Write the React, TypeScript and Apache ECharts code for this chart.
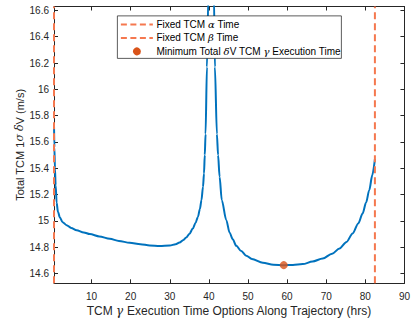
import React, { useEffect, useRef } from "react";
import * as echarts from "echarts";

const xTicks = [10, 20, 30, 40, 50, 60, 70, 80, 90];
const yTicks = [14.6, 14.8, 15, 15.2, 15.4, 15.6, 15.8, 16, 16.2, 16.4, 16.6];
const xRange = [0.4, 90];
const yRange = [14.525, 16.63];

const curveX = [
  0.4, 0.5, 0.64, 0.82, 1.07, 1.4, 1.91, 2.6, 3.62, 4.8, 6.18, 8.0, 9.57, 12.0, 14.67, 17.0,
  19.77, 22.5, 24.88, 27.43, 30.0, 31.5, 32.5, 33.5, 34.2, 35.0, 35.9, 36.6, 37.2, 37.7, 38.1,
  38.5, 38.75, 38.95, 39.15, 39.5, 39.86, 40.2, 40.6, 41.0, 41.3, 41.54, 42.05, 42.35, 42.74,
  43.3, 44.45, 45.3, 46.1, 47.0, 48.28, 49.55, 51.0, 53.8, 56.5, 59.15, 61.5, 64.0, 66.5, 69.1,
  71.5, 73.4, 75.2, 76.75, 78.2, 79.3, 80.2, 81.0, 81.8, 82.45,
];
const curveY = [
  15.74, 15.56, 15.4, 15.27, 15.14, 15.07, 15.025, 14.99, 14.967, 14.946, 14.929, 14.912, 14.899,
  14.881, 14.863, 14.847, 14.833, 14.822, 14.813, 14.808, 14.812, 14.822, 14.836, 14.855, 14.874,
  14.9, 14.942, 14.985, 15.03, 15.09, 15.157, 15.26, 15.36, 15.5, 15.66, 16.17, 16.7, 17.6, 18.5,
  17.6, 16.7, 16.17, 15.66, 15.5, 15.335, 15.157, 15.005, 14.91, 14.86, 14.81, 14.77, 14.735,
  14.71, 14.681, 14.667, 14.663, 14.665, 14.671, 14.69, 14.714, 14.75, 14.79, 14.84, 14.904,
  14.98, 15.056, 15.14, 15.233, 15.35, 15.47,
];

const alphaTime = 0.4;
const betaTime = 82.45;
const minTime = 59.15;
const minDeltaV = 14.663;

const FONT = "'Liberation Sans', Arial, Helvetica, sans-serif";
const GREEK = "'DejaVu Serif', 'Liberation Serif', serif";
const INK = "#262626";
const BLUE = "#0072BD";
const DASH = "#F5784F";
const DOT = "#D95319";

export default function App() {
  const ref = useRef<HTMLDivElement>(null);

  useEffect(() => {
    if (!ref.current) return;
    const chart = echarts.init(ref.current, undefined, { renderer: "svg" });
    const fmt = (v: number) => String(Number(v.toFixed(1)));
    const richFor = (size: number) => ({
      a: { fontFamily: FONT, fontSize: size, color: INK },
      g: { fontFamily: GREEK, fontStyle: "italic", fontSize: size, color: INK },
    });
    const legStyle = (text: string) => ({
      text,
      fontFamily: FONT,
      fontSize: 10,
      fill: "#000",
      verticalAlign: "middle",
      rich: {
        g: { fontFamily: GREEK, fontStyle: "italic", fontSize: 10, fill: "#000", color: "#000" },
      },
    });
    const baseX = {
      type: "value",
      min: xRange[0],
      max: xRange[1],
      splitLine: { show: false },
      axisLine: { show: true, onZero: false, lineStyle: { color: INK, width: 1 } },
      axisTick: { show: true, inside: true, length: 4, customValues: xTicks, lineStyle: { color: INK } },
    };
    const baseY = {
      type: "value",
      min: yRange[0],
      max: yRange[1],
      splitLine: { show: false },
      axisLine: { show: true, onZero: false, lineStyle: { color: INK, width: 1 } },
      axisTick: { show: true, inside: true, length: 4, customValues: yTicks, lineStyle: { color: INK } },
    };
    const curve = curveX.map((x, i) => [x, curveY[i]]);
    chart.setOption({
      animation: false,
      backgroundColor: "#fff",
      grid: { left: 54, right: 8, top: 6.5, bottom: 41.7, containLabel: false },
      xAxis: [
        {
          ...baseX,
          position: "bottom",
          axisLabel: {
            customValues: xTicks,
            fontFamily: FONT,
            fontSize: 10,
            color: INK,
            margin: 8,
          },
          name: "{a|TCM }{g|γ}{a| Execution Time Options Along Trajectory (hrs)}",
          nameLocation: "middle",
          nameGap: 22,
          nameMoveOverlap: false,
          nameTextStyle: { rich: richFor(12) },
        },
        { ...baseX, position: "top", axisLabel: { show: false } },
      ],
      yAxis: [
        {
          ...baseY,
          position: "left",
          axisLabel: {
            customValues: yTicks,
            fontFamily: FONT,
            fontSize: 10,
            color: INK,
            margin: 5,
            formatter: fmt,
          },
          name: "{a|Total TCM 1}{g|σ}{a| }{g|δ}{a|V (m/s)}",
          nameLocation: "middle",
          nameRotate: 90,
          nameGap: 29,
          nameMoveOverlap: false,
          nameTextStyle: { rich: richFor(11) },
        },
        { ...baseY, position: "right", axisLabel: { show: false } },
      ],
      series: [
        {
          type: "line",
          data: curve,
          showSymbol: false,
          smooth: 0.3,
          smoothMonotone: "x",
          lineStyle: { color: BLUE, width: 2 },
          z: 2,
        },
        {
          type: "line",
          data: [
            [alphaTime, yRange[0]],
            [alphaTime, yRange[1]],
          ],
          showSymbol: false,
          clip: false,
          lineStyle: { color: DASH, width: 2, type: [7, 4] },
          z: 3,
        },
        {
          type: "line",
          data: [
            [betaTime, yRange[0]],
            [betaTime, yRange[1]],
          ],
          showSymbol: false,
          clip: false,
          lineStyle: { color: DASH, width: 2, type: [7, 4] },
          z: 3,
        },
        {
          type: "scatter",
          data: [[minTime, minDeltaV]],
          symbol: "circle",
          symbolSize: 8,
          itemStyle: { color: DOT },
          z: 4,
        },
      ],
      graphic: [
        {
          type: "group",
          left: 117,
          top: 15.5,
          z: 100,
          children: [
            {
              type: "rect",
              z: 100,
              shape: { x: 0.5, y: 0.5, width: 224, height: 42.5 },
              style: { fill: "#fff", stroke: INK, lineWidth: 0.75 },
            },
            {
              type: "line",
              z: 101,
              shape: { x1: 4, y1: 9, x2: 36, y2: 9 },
              style: { stroke: DASH, lineWidth: 2, lineDash: [6, 3.5] },
            },
            {
              type: "line",
              z: 101,
              shape: { x1: 4, y1: 22.5, x2: 36, y2: 22.5 },
              style: { stroke: DASH, lineWidth: 2, lineDash: [6, 3.5] },
            },
            {
              type: "circle",
              z: 101,
              shape: { cx: 20, cy: 36, r: 4 },
              style: { fill: DOT },
            },
            {
              type: "text",
              z: 101,
              x: 39.5,
              y: 9,
              style: legStyle("Fixed TCM {g|α} Time"),
            },
            {
              type: "text",
              z: 101,
              x: 39.5,
              y: 22.5,
              style: legStyle("Fixed TCM {g|β} Time"),
            },
            {
              type: "text",
              z: 101,
              x: 39.5,
              y: 36,
              style: legStyle("Minimum Total {g|δ}V TCM {g|γ} Execution Time"),
            },
          ],
        },
      ],
    });
    return () => chart.dispose();
  }, []);

  return (
    <div
      ref={ref}
      style={{ position: "absolute", left: 0, top: 0, width: 413, height: 325 }}
    />
  );
}
